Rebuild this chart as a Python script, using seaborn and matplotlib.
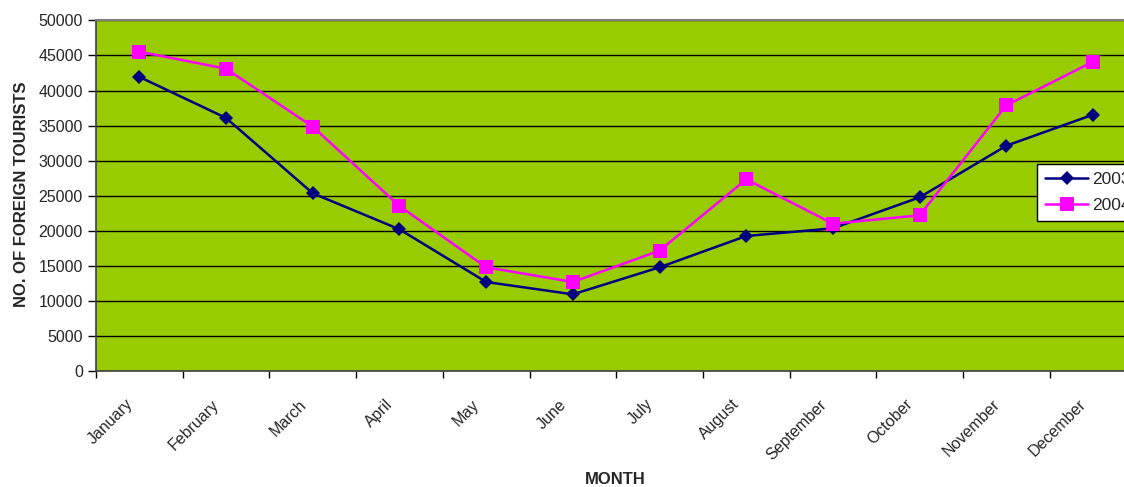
import pandas as pd
import seaborn as sns
import matplotlib.pyplot as plt
import matplotlib.transforms as mtransforms
from matplotlib.ticker import FixedLocator

# Data
months = ["January", "February", "March", "April", "May", "June",
          "July", "August", "September", "October", "November", "December"]
tourists_2003 = [41950, 36100, 25370, 20240, 12740, 10980,
                 14830, 19290, 20380, 24800, 32150, 36570]
tourists_2004 = [45540, 43120, 34860, 23560, 14830, 12740,
                 17200, 27360, 21040, 22240, 37900, 44120]
years = ["2003", "2004"]

df = pd.DataFrame({
    "month": months * 2,
    "tourists": tourists_2003 + tourists_2004,
    "year": [years[0]] * 12 + [years[1]] * 12,
})

sns.set_style("white")
plt.rcParams["font.family"] = ["Liberation Sans", "DejaVu Sans"]

fig = plt.figure(figsize=(11.24, 4.87), dpi=100)
# plot area runs past the right edge of the picture, as in the original crop
ax = fig.add_axes([96 / 1124, 1 - 371.4 / 487, 1040.4 / 1124, 351 / 487])
ax.set_facecolor("#99CC00")

sns.lineplot(
    data=df, x="month", y="tourists", hue="year", style="year",
    palette={"2003": "#000080", "2004": "#FF00FF"},
    markers={"2003": "D", "2004": "s"}, dashes=False,
    markersize=8, linewidth=1.8, markeredgewidth=0,
    sort=False, ax=ax, legend=False,
)
# squares a bit bigger than diamonds
for line, ms in zip(ax.lines, [7.5, 10.5]):
    line.set_markersize(ms)

ax.set_xlim(-0.5, 11.5)
ax.set_ylim(0, 50000)
ax.set_yticks(range(0, 50001, 5000))
ax.yaxis.grid(True, color="black", linewidth=1)
ax.set_axisbelow(True)

# category ticks sit between the months
ax.xaxis.set_minor_locator(FixedLocator([i - 0.5 for i in range(13)]))
ax.set_xticks(range(12))
ax.set_xticklabels(months, rotation=45, ha="right", va="center", rotation_mode="anchor", fontsize=11.5)
ax.tick_params(axis="x", which="major", length=0, pad=22)
ax.tick_params(axis="x", which="minor", length=5, width=1, color="black", direction="out", bottom=True)
ax.tick_params(axis="y", length=6, width=1, color="black", direction="out", left=True, labelsize=11.5)
shift = mtransforms.ScaledTranslation(-9 / 100, 0, fig.dpi_scale_trans)
for lbl in ax.get_xticklabels():
    lbl.set_transform(lbl.get_transform() + shift)

for side in ["top", "right"]:
    ax.spines[side].set_color("#808080")
    ax.spines[side].set_linewidth(1.5)
for side in ["left", "bottom"]:
    ax.spines[side].set_color("#404040")
    ax.spines[side].set_linewidth(1.2)

ax.set_xlabel("")
ax.set_ylabel("")
fig.text(615 / 1124, 1 - 480 / 487, "MONTH", ha="center", va="center", fontsize=12, fontweight="bold")
fig.text(22 / 1124, 1 - 194 / 487, "NO. OF FOREIGN TOURISTS", ha="center", va="center",
         rotation=90, fontsize=12, fontweight="bold")

fig.legend(
    handles=ax.lines[:2], labels=years,
    loc="upper left", bbox_to_anchor=(1037 / 1124, 1 - 164 / 487), borderaxespad=0,
    frameon=True, fancybox=False, framealpha=1, edgecolor="black",
    fontsize=12.5, handlelength=2.5, borderpad=0.45, labelspacing=0.65,
    handletextpad=0.25,
)

fig.savefig("out.png", dpi=100)
